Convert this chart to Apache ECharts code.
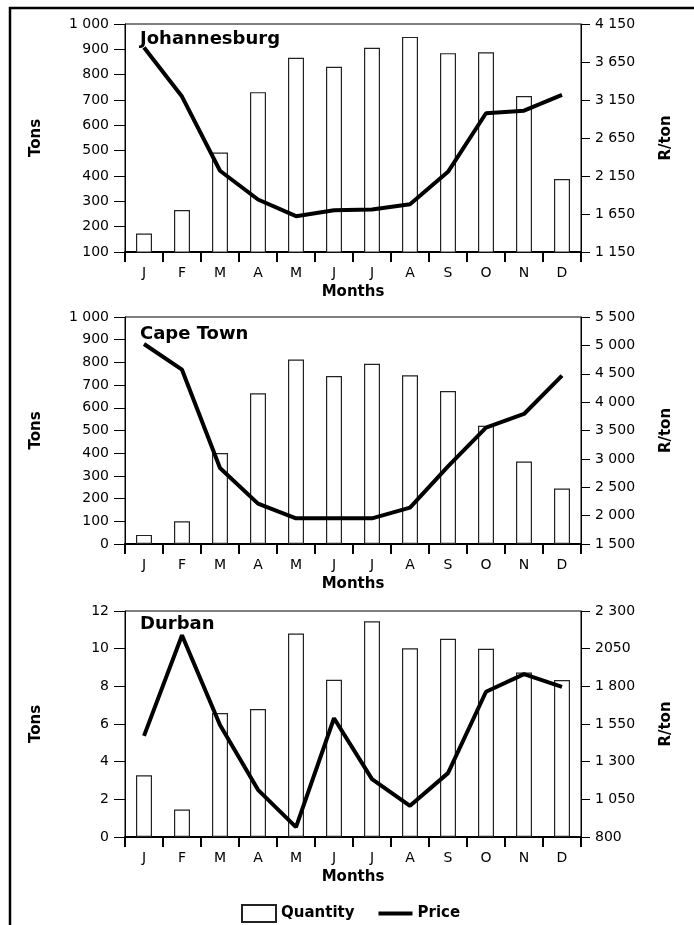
<!DOCTYPE html>
<html>
<head>
<meta charset="utf-8">
<title>Quantity and price</title>
<script src="https://cdn.jsdelivr.net/npm/echarts@6/dist/echarts.min.js"></script>
<style>
  body { margin: 0; background: #fff; }
  #main { width: 694px; height: 925px; }
</style>
</head>
<body>
<div id="main"></div>
<script>
// data
var months = ['J', 'F', 'M', 'A', 'M', 'J', 'J', 'A', 'S', 'O', 'N', 'D'];

var jhbQty   = [173, 266, 493, 731, 867, 831, 906, 949, 885, 888, 716, 388];
var jhbPrice = [3841, 3195, 2219, 1841, 1621, 1700, 1709, 1779, 2205, 2976, 3010, 3217];

var ctQty   = [40, 100, 401, 664, 813, 740, 794, 743, 674, 521, 363, 244];
var ctPrice = [5024, 4572, 2839, 2211, 1952, 1952, 1952, 2140, 2869, 3550, 3791, 4466];

var dbnQty   = [3.28, 1.46, 6.58, 6.79, 10.8, 8.35, 11.45, 10.02, 10.52, 9.99, 8.73, 8.33];
var dbnPrice = [1471, 2139, 1543, 1113, 866, 1588, 1184, 1007, 1224, 1764, 1881, 1797];

// tick labels
var jhbTonTicks = [100, 200, 300, 400, 500, 600, 700, 800, 900, 1000];
var ctTonTicks  = [0, 100, 200, 300, 400, 500, 600, 700, 800, 900, 1000];
var dbnTonTicks = [0, 2, 4, 6, 8, 10, 12];

var jhbRandTicks  = [1150, 1650, 2150, 2650, 3150, 3650, 4150];
var jhbRandLabels = ['1 150', '1 650', '2 150', '2 650', '3 150', '3 650', '4 150'];
var ctRandTicks   = [1500, 2000, 2500, 3000, 3500, 4000, 4500, 5000, 5500];
var ctRandLabels  = ['1 500', '2 000', '2 500', '3 000', '3 500', '4 000', '4 500', '5 000', '5 500'];
var dbnRandTicks  = [800, 1050, 1300, 1550, 1800, 2050, 2300];
var dbnRandLabels = ['800', '1 050', '1 300', '1 550', '1 800', '2050', '2 300'];

var cities = ['Johannesburg', 'Cape Town', 'Durban'];

var panels = [
    {qty: jhbQty, price: jhbPrice, ton: jhbTonTicks, rand: jhbRandTicks, randLab: jhbRandLabels},
    {qty: ctQty, price: ctPrice, ton: ctTonTicks, rand: ctRandTicks, randLab: ctRandLabels},
    {qty: dbnQty, price: dbnPrice, ton: dbnTonTicks, rand: dbnRandTicks, randLab: dbnRandLabels}
];

// layout
var gridTops = [24, 317, 611];
var gridHeights = [228, 227, 226];
var titleTops = [30, 325, 615];

var FONT = 'DejaVu Sans';

function tonLabel(v) {
    var s = String(v);
    if (v >= 1000) s = s.slice(0, s.length - 3) + ' ' + s.slice(-3);
    return s;
}

var myChart = echarts.init(document.getElementById('main'));

var grid = [], xAxis = [], yAxis = [], series = [], title = [];

for (var i = 0; i < panels.length; i++) {
    var p = panels[i];
    grid.push({
        left: 125, width: 456, top: gridTops[i], height: gridHeights[i],
        show: true, borderColor: '#000', borderWidth: 1, backgroundColor: 'transparent'
    });
    title.push({
        text: cities[i], left: 140, top: titleTops[i], padding: 0,
        textStyle: {fontFamily: FONT, fontSize: 18, fontWeight: 'bold', color: '#000'}
    });
    xAxis.push({
        type: 'category', gridIndex: i, data: months,
        name: 'Months', nameLocation: 'middle', nameGap: 33,
        nameTextStyle: {fontFamily: FONT, fontSize: 15, fontWeight: 'bold', color: '#000'},
        axisLine: {lineStyle: {color: '#000', width: 2}},
        axisTick: {show: true, length: 10, lineStyle: {color: '#000', width: 2}},
        axisLabel: {fontFamily: FONT, fontSize: 14, color: '#000', margin: 14, interval: 0}
    });
    var tons = p.ton;
    yAxis.push({
        type: 'value', gridIndex: i, position: 'left',
        min: tons[0], max: tons[tons.length - 1], interval: tons[1] - tons[0],
        name: 'Tons', nameLocation: 'middle', nameGap: 81,
        nameTextStyle: {fontFamily: FONT, fontSize: 15, fontWeight: 'bold', color: '#000'},
        axisLine: {show: true, lineStyle: {color: '#000', width: 1}},
        axisTick: {show: true, length: 11, lineStyle: {color: '#000'}},
        axisLabel: {fontFamily: FONT, fontSize: 14, color: '#000', margin: 16, formatter: tonLabel},
        splitLine: {show: false}
    });
    (function (p) {
        yAxis.push({
            type: 'value', gridIndex: i, position: 'right',
            min: p.rand[0], max: p.rand[p.rand.length - 1],
            name: 'R/ton', nameLocation: 'middle', nameGap: 78,
            nameTextStyle: {fontFamily: FONT, fontSize: 15, fontWeight: 'bold', color: '#000'},
            axisLine: {show: true, lineStyle: {color: '#000', width: 1}},
            axisTick: {show: true, length: 9, customValues: p.rand, lineStyle: {color: '#000'}},
            axisLabel: {
                fontFamily: FONT, fontSize: 14, color: '#000', margin: 14,
                customValues: p.rand,
                formatter: function (v) {
                    var k = p.rand.indexOf(v);
                    return k >= 0 ? p.randLab[k] : '';
                }
            },
            splitLine: {show: false}
        });
    })(p);
    series.push({
        name: 'Quantity', type: 'bar', xAxisIndex: i, yAxisIndex: i * 2,
        data: p.qty, barWidth: 16,
        itemStyle: {color: '#fff', borderColor: '#222', borderWidth: 1.2}
    });
    series.push({
        name: 'Price', type: 'line', xAxisIndex: i, yAxisIndex: i * 2 + 1,
        data: p.price, symbol: 'none', showSymbol: false,
        lineStyle: {color: '#000', width: 4},
        itemStyle: {color: '#000'}
    });
}

var option = {
    animation: false,
    backgroundColor: '#fff',
    title: title,
    grid: grid,
    xAxis: xAxis,
    yAxis: yAxis,
    series: series,
    legend: {
        data: [
            {name: 'Quantity', icon: 'rect'},
            {name: 'Price', icon: 'path://M0,0 H35 V4 H0 Z'}
        ],
        left: 236, top: 899,
        itemWidth: 34, itemHeight: 17, itemGap: 24,
        symbolKeepAspect: true,
        textStyle: {fontFamily: FONT, fontSize: 15, fontWeight: 'bold', color: '#000'}
    },
    graphic: [{
        type: 'rect',
        shape: {x: 10, y: 8, width: 720, height: 960},
        style: {fill: 'none', stroke: '#000', lineWidth: 2.5},
        silent: true
    }]
};

myChart.setOption(option);
</script>
</body>
</html>
